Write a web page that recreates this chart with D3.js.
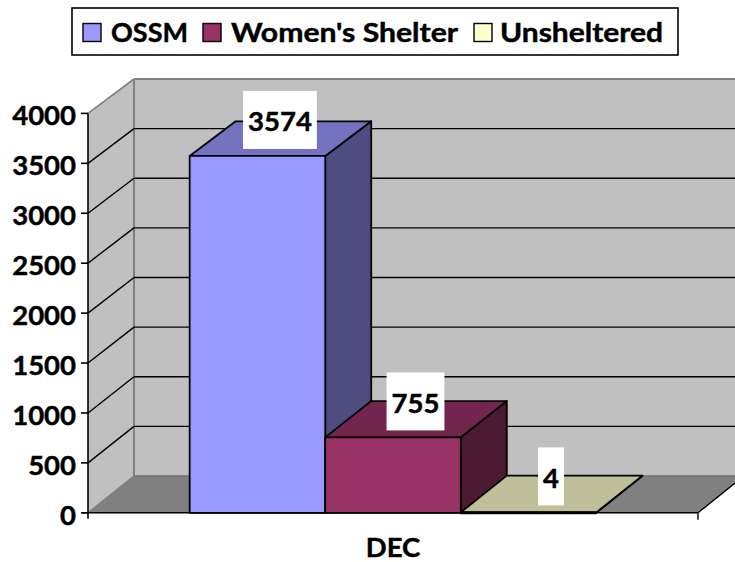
<!DOCTYPE html>
<html><head><meta charset="utf-8">
<script src="https://cdn.jsdelivr.net/npm/d3@7"></script>
<style>html,body{margin:0;padding:0;background:#fff}svg{display:block}text{font-family:Lato,"Open Sans",sans-serif;font-weight:700;fill:#000;stroke:#000;stroke-width:.45px}</style>
</head><body><svg id="c" width="735" height="562"></svg>
<script>
const categories = ["DEC"];
const seriesNames = ["OSSM", "Women's Shelter", "Unsheltered"];
const seriesValues = [3574, 755, 4];
const tickValues = [0, 500, 1000, 1500, 2000, 2500, 3000, 3500, 4000];
const frontColors = ["#9999FF", "#993366", "#FFFFCC"];
const topColors = ["#7373BF", "#73264D", "#BFBF99"];
const sideColors = ["#4D4D80", "#4D1A33", "#80806A"];

const svg = d3.select("#c");
const dx = 46, fs = 27.5;
const y = d3.scaleLinear().domain([0, 4000]).range([512.8, 113.4]);
const yBack = d3.scaleLinear().domain([0, 4000]).range([476, 79]);
const x = d3.scaleBand().domain(seriesNames).range([88, 698]).paddingInner(0).paddingOuter(0.75);
const catX = d3.scalePoint().domain(categories).range([88, 698]).padding(0.5);
const poly = (pts, fill, sw = 1.8, stroke = "#000") => svg.append("polygon")
  .attr("points", pts.map(p => p.join(",")).join(" "))
  .attr("fill", fill).attr("stroke", sw ? stroke : "none").attr("stroke-width", sw).attr("stroke-linejoin", "round");

const [xL, xR] = x.range(), y0 = y(0), yT = y(4000), b0 = yBack(0), bT = yBack(4000);
const line = (x1, y1, x2, y2, c, w) => svg.append("line").attr("x1", x1).attr("y1", y1).attr("x2", x2).attr("y2", y2).attr("stroke", c).attr("stroke-width", w);
// walls and floor
poly([[xL + dx, bT], [775, bT], [775, b0], [xL + dx, b0]], "#C0C0C0", 0);
poly([[xL, y0], [xL + dx, b0], [xL + dx, bT], [xL, yT]], "#C0C0C0", 0);
poly([[xL, y0], [xR, y0], [xR + dx, b0], [xL + dx, b0]], "#808080", 0);
line(xL + dx, bT, 735, bT, "#808080", 2);
line(xL, yT, xL + dx, bT, "#808080", 1.6);
line(xL + dx, bT, xL + dx, b0, "#808080", 2);
line(xL, y0, xL + dx, b0, "#808080", 1.6);
line(xL + dx, b0, 735, b0, "#707070", 1.6);
// gridlines
tickValues.filter(t => t > 0 && t < 4000).forEach(t => {
  line(xL, y(t), xL + dx, yBack(t), "#000", 1.4);
  line(xL + dx, yBack(t), 735, yBack(t), "#000", 1.4);
});
// axes
line(xL, yT, xL, y0 + 6, "#000", 1.6);
line(xL - 6, y0, xR, y0, "#000", 1.6);
line(xR, y0, xR, y0 + 7, "#000", 1.4);
line(xR, y0, xR + dx, b0, "#000", 1.4);
tickValues.forEach(t => {
  line(xL - 7, y(t), xL, y(t), "#000", 1.6);
  svg.append("text").attr("x", xL - 12).attr("y", y(t) + 5).attr("text-anchor", "end").attr("dominant-baseline", "middle").attr("font-size", fs).text(t);
});
// bars
seriesNames.forEach((s, i) => {
  const l = x(s), r = l + x.bandwidth(), t = y(seriesValues[i]), tb = yBack(seriesValues[i]);
  poly([[r, t], [r + dx, tb], [r + dx, b0], [r, y0]], sideColors[i]);
  poly([[l, t], [l + dx, tb], [r + dx, tb], [r, t]], topColors[i]);
  if (y0 - t > 2) poly([[l, t], [r, t], [r, y0], [l, y0]], frontColors[i]);
  else line(l, y0, r, y0, "#000", 3);
});
// data labels
seriesNames.forEach((s, i) => {
  const cx = x(s) + x.bandwidth() / 2 + dx / 2 - 0.5, cy = y(seriesValues[i]) - 36;
  const tx = svg.append("text").attr("x", cx).attr("y", cy + 4.5).attr("text-anchor", "middle").attr("dominant-baseline", "middle").attr("font-size", fs).text(seriesValues[i]);
  const w = tx.node().getComputedTextLength() + 10;
  svg.insert("rect", () => tx.node()).attr("x", cx - w / 2).attr("y", cy - 29).attr("width", w).attr("height", 58).attr("fill", "#fff");
});
// category
svg.append("text").attr("x", catX("DEC")).attr("y", 550).attr("text-anchor", "middle").attr("dominant-baseline", "middle").attr("font-size", fs).text(categories[0]);
// legend
const lg = svg.append("g");
lg.append("rect").attr("x", 72).attr("y", 8).attr("width", 606).attr("height", 47).attr("fill", "#fff").attr("stroke", "#000").attr("stroke-width", 1.6);
const legendX = [83, 203, 474];
const legendTextX = [111, 231, 500];
const legendTextW = [77, 227, 163];
seriesNames.forEach((s, i) => {
  lg.append("rect").attr("x", legendX[i]).attr("y", 23.5).attr("width", 18).attr("height", 18).attr("fill", frontColors[i]).attr("stroke", "#000").attr("stroke-width", 1.4);
  lg.append("text").attr("x", legendTextX[i]).attr("y", 35).attr("dominant-baseline", "middle").attr("font-size", fs).attr("textLength", legendTextW[i]).attr("lengthAdjust", "spacingAndGlyphs").text(s);
});
</script></body></html>
